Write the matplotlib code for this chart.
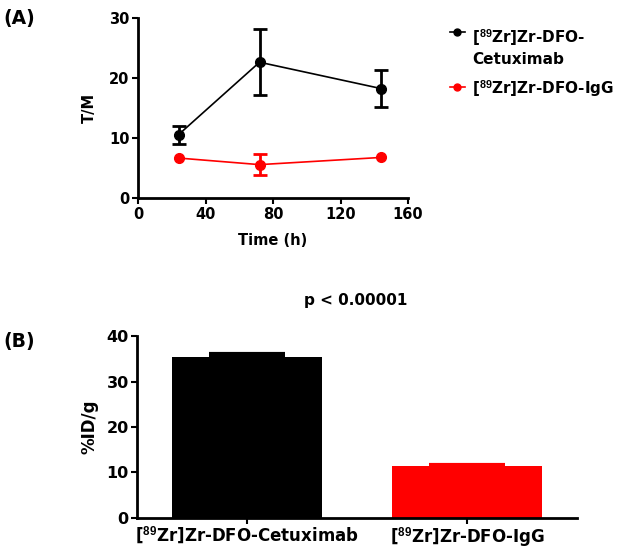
import numpy as np
import matplotlib
matplotlib.use('Agg')
import matplotlib.pyplot as plt
from matplotlib.lines import Line2D

plt.rcParams['font.family'] = ['DejaVu Sans']
plt.rcParams['font.weight'] = 'bold'
plt.rcParams['mathtext.fontset'] = 'custom'
plt.rcParams['mathtext.rm'] = 'Liberation Sans:bold'
plt.rcParams['mathtext.bf'] = 'Liberation Sans:bold'
plt.rcParams['mathtext.default'] = 'bf'

# panel A data
time_h = np.array([24, 72, 144])
cetux_tm = np.array([10.6, 22.7, 18.3])
cetux_err = np.array([1.5, 5.5, 3.1])
igg_tm = np.array([6.7, 5.6, 6.8])
igg_err = np.array([0.0, 1.7, 0.0])
series_labels = ['[$^{89}$Zr]Zr-DFO-\nCetuximab', '[$^{89}$Zr]Zr-DFO-IgG']
series_colors = ['black', 'red']

# panel B data
groups = ['[$^{89}$Zr]Zr-DFO-Cetuximab', '[$^{89}$Zr]Zr-DFO-IgG']
uptake = [35.4, 11.4]
uptake_err = [0.6, 0.35]
bar_colors = ['black', 'red']

fig = plt.figure(figsize=(6.31, 5.52), dpi=100)

# ---- (A) ----
ax1 = fig.add_axes([0.2187, 0.641, 0.428, 0.3255])
for y, e, c in zip([cetux_tm, igg_tm], [cetux_err, igg_err], series_colors):
    ax1.plot(time_h, y, color=c, marker='o', markersize=7, linewidth=1.2)
    m = e > 0
    ax1.errorbar(time_h[m], y[m], yerr=e[m], fmt='none', ecolor=c,
                 elinewidth=2, capsize=5, capthick=2)
ax1.set_xlim(0, 160)
ax1.set_ylim(0, 30)
ax1.set_xticks([0, 40, 80, 120, 160])
ax1.set_yticks([0, 10, 20, 30])
ax1.set_xlabel('Time (h)', fontsize=10.5, fontweight='bold', labelpad=8)
ax1.set_ylabel('T/M', fontsize=10.5, fontweight='bold', labelpad=9)
for s in ['top', 'right']:
    ax1.spines[s].set_visible(False)
for s in ['left', 'bottom']:
    ax1.spines[s].set_linewidth(2)
ax1.tick_params(width=1.5, length=4, labelsize=10.5, pad=2)
for lab in ax1.get_xticklabels() + ax1.get_yticklabels():
    lab.set_fontweight('bold')

# legend drawn by hand so the key sits beside the first text line
key_y = [1 - 32 / 552, 1 - 87 / 552]
text_y = [1 - 37 / 552, 1 - 88 / 552]
for lab, c, ky, ty in zip(series_labels, series_colors, key_y, text_y):
    fig.add_artist(Line2D([450 / 631, 465 / 631], [ky, ky], color=c,
                          linewidth=1.2, transform=fig.transFigure))
    fig.add_artist(Line2D([457 / 631], [ky], color=c, marker='o',
                          markersize=5, transform=fig.transFigure))
    fig.text(472 / 631, ty + 0.018, lab, fontsize=11, fontweight='bold',
             va='top', ha='left', linespacing=1.25)

# ---- (B) ----
ax2 = fig.add_axes([0.2171, 0.0616, 0.6973, 0.3297])
x = np.arange(len(groups))
ax2.bar(x, uptake, width=0.68, color=bar_colors)
for xi, v, e, c in zip(x, uptake, uptake_err, bar_colors):
    ax2.errorbar(xi, v, yerr=[[0], [e]], color=c, elinewidth=3,
                 capsize=27.7, capthick=3)
ax2.set_xlim(-0.5, 1.5)
ax2.set_ylim(0, 40)
ax2.set_yticks([0, 10, 20, 30, 40])
ax2.set_xticks(x)
ax2.set_xticklabels(groups, fontsize=12, fontweight='bold')
ax2.set_ylabel('%ID/g', fontsize=12, fontweight='bold', labelpad=6)
for s in ['top', 'right']:
    ax2.spines[s].set_visible(False)
for s in ['left', 'bottom']:
    ax2.spines[s].set_linewidth(2)
ax2.tick_params(width=1.5, length=4, pad=1)
ax2.tick_params(axis='y', labelsize=11.5, pad=2)
for lab in ax2.get_yticklabels():
    lab.set_fontweight('bold')

fig.text(356 / 631, 1 - 300 / 552, 'p < 0.00001', fontsize=11, fontweight='bold',
         ha='center', va='center')
fig.text(0.006, 0.967, '(A)', fontsize=13.5, fontweight='bold', va='center')
fig.text(0.006, 1 - 341 / 552, '(B)', fontsize=13.5, fontweight='bold', va='center')

fig.savefig('out.png', dpi=100)
